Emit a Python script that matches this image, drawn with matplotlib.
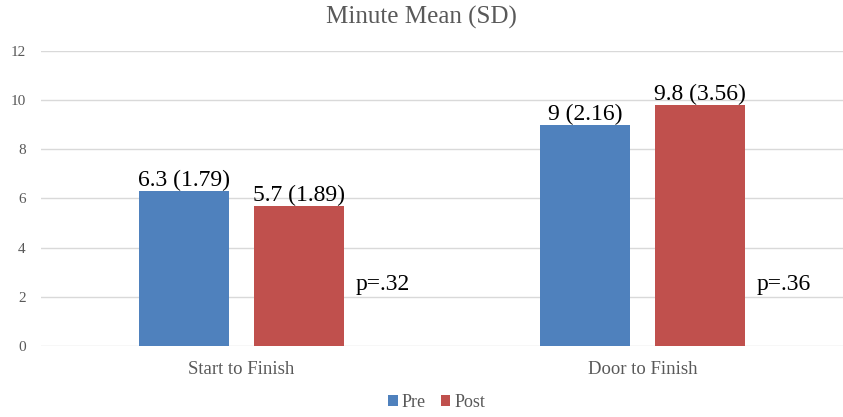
import matplotlib
matplotlib.use("Agg")
import matplotlib.pyplot as plt
import numpy as np

categories = ["Start to Finish", "Door to Finish"]
pre_values = [6.3, 9.0]
post_values = [5.7, 9.8]
pre_labels = ["6.3 (1.79)", "9 (2.16)"]
post_labels = ["5.7 (1.89)", "9.8 (3.56)"]
p_labels = ["p=.32", "p=.36"]
p_y = [2.5, 2.5]
series_names = ["Pre", "Post"]
yticks = [0, 2, 4, 6, 8, 10, 12]

plt.rcParams['font.family'] = ['Liberation Serif', 'DejaVu Serif']

fig = plt.figure(figsize=(8.43, 4.17), dpi=100)
ax = fig.add_axes([0.0486, 0.170, 0.9514, 0.708])

x = np.arange(len(categories))
w = 0.224
off = 0.143
blue = "#4F81BD"
red = "#C0504D"
b1 = ax.bar(x - off, pre_values, w, color=blue, label=series_names[0], zorder=3)
b2 = ax.bar(x + off, post_values, w, color=red, label=series_names[1], zorder=3)

for xi, v, t in zip(x - off, pre_values, pre_labels):
    ax.text(xi, v + 0.0, t, ha="center", va="bottom", fontsize=17, color="black", zorder=4)
for xi, v, t in zip(x + off, post_values, post_labels):
    ax.text(xi, v + 0.0, t, ha="center", va="bottom", fontsize=17, color="black", zorder=4)
for xi, py, t in zip(x, p_y, p_labels):
    ax.text(xi + off + w / 2 + 0.03, py, t, ha="left", va="center", fontsize=17, color="black")

ax.set_xlim(-0.5, 1.5)
ax.set_ylim(0, 12)
ax.set_yticks(yticks)
ax.set_yticklabels([str(t) for t in yticks])
ax.set_xticks(x)
ax.set_xticklabels(categories)
ax.yaxis.grid(True, color="#D9D9D9", linewidth=1, zorder=0)
ax.set_axisbelow(True)
for s in ax.spines.values():
    s.set_visible(False)
ax.tick_params(axis="y", length=0, labelsize=11, labelcolor="#595959", pad=11)
ax.tick_params(axis="x", length=0, labelsize=13.5, labelcolor="#595959", pad=11)

fig.text(0.5, 0.957, "Minute Mean (SD)", ha="center", va="center", fontsize=18, color="#595959")

leg = fig.legend(handles=[b1, b2], labels=series_names, loc="center", bbox_to_anchor=(0.518, 0.034),
                 ncol=2, frameon=False, fontsize=13, handlelength=0.55, handleheight=0.55,
                 handletextpad=0.2, columnspacing=0.8)
for t in leg.get_texts():
    t.set_color("#595959")

fig.savefig("out.png", dpi=100)
